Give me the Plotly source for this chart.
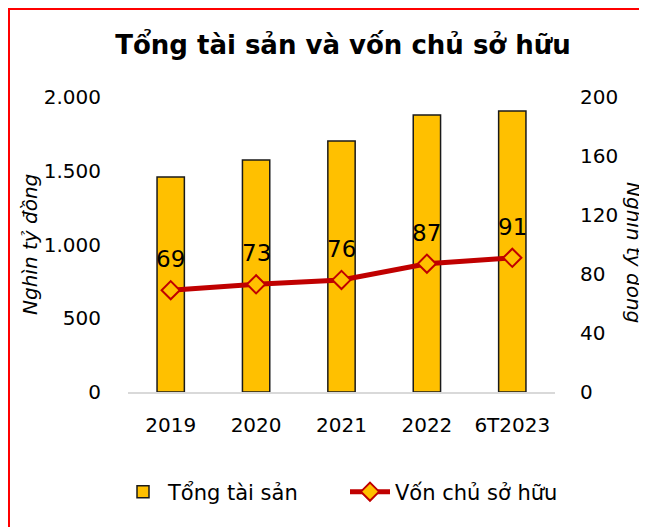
import plotly.graph_objects as go

categories = ["2019", "2020", "2021", "2022", "6T2023"]
total_assets = [1458, 1573, 1702, 1878, 1905]
equity = [69, 73, 76, 87, 91]
left_tickvals = [0, 500, 1000, 1500, 2000]
left_ticktext = ["0", "500", "1.000", "1.500", "2.000"]
right_tickvals = [0, 40, 80, 120, 160, 200]
right_ticktext = ["0", "40", "80", "120", "160", "200"]

OFF = 8  # page (body) offset of the figure in the screenshot
W, H = 647, 527
L, R, T, B = 128 - OFF, 92 + OFF, 97 - OFF, 135 + OFF
pw, ph = W - L - R, H - T - B

def px_x(x):
    return (x - OFF - L) / pw

def px_y(y):
    return (H - B - (y - OFF)) / ph

FONT = "DejaVu Sans"
GOLD = "#FFC000"
RED = "#C00000"

fig = go.Figure()
fig.add_trace(go.Bar(
    x=categories, y=total_assets, name="Tổng tài sản",
    marker=dict(color=GOLD, line=dict(color="#1a1a1a", width=1.5)),
    width=0.32, yaxis="y",
))
fig.add_trace(go.Scatter(
    x=categories, y=equity, name="Vốn chủ sở hữu", yaxis="y2",
    mode="lines+markers",
    line=dict(color=RED, width=5),
    marker=dict(symbol="diamond", size=14, color=GOLD, line=dict(color=RED, width=2)),
))

annotations = []
for i, v in enumerate(equity):
    annotations.append(dict(
        x=i, y=v, xref="x", yref="y2", text=str(v), showarrow=False,
        yshift=31, font=dict(family=FONT, size=23, color="#000000"),
    ))
annotations.append(dict(
    x=px_x(30), y=px_y(245), xref="paper", yref="paper", text="<i>Nghìn tỷ đồng</i>",
    xanchor="center", yanchor="middle",
    textangle=-90, showarrow=False, font=dict(family=FONT, size=20, color="#000000"),
))
annotations.append(dict(
    x=px_x(634), y=px_y(252), xref="paper", yref="paper", text="<i>Nghìn tỷ đồng</i>",
    xanchor="center", yanchor="middle",
    textangle=90, showarrow=False, font=dict(family=FONT, size=20, color="#000000"),
))

fig.update_layout(
    width=W, height=H,
    margin=dict(l=L, r=R, t=T, b=B, pad=0, autoexpand=False),
    paper_bgcolor="white", plot_bgcolor="white",
    font=dict(family=FONT, size=20, color="#000000"),
    title=dict(text="<b>Tổng tài sản và vốn chủ sở hữu</b>", x=px_x(343), xanchor="center",
               y=1 - (45 - OFF) / H, yanchor="middle", xref="paper",
               font=dict(family=FONT, size=26, color="#000000")),
    xaxis=dict(type="category", range=[-0.5, len(categories) - 0.5],
               showgrid=False, showline=True, linecolor="#D9D9D9", linewidth=2,
               ticks="outside", ticklen=14, tickcolor="rgba(0,0,0,0)",
               tickfont=dict(size=20), zeroline=False),
    yaxis=dict(range=[0, 2000], tickvals=left_tickvals, ticktext=left_ticktext,
               showgrid=False, zeroline=False, showline=False,
               ticks="outside", ticklen=22, tickcolor="rgba(0,0,0,0)", tickfont=dict(size=20)),
    yaxis2=dict(range=[0, 200], tickvals=right_tickvals, ticktext=right_ticktext,
                overlaying="y", side="right", showgrid=False, zeroline=False, showline=False,
                ticks="outside", ticklen=20, tickcolor="rgba(0,0,0,0)", tickfont=dict(size=20)),
    legend=dict(orientation="h", x=px_x(118), xanchor="left", y=px_y(492), yanchor="middle",
                font=dict(family=FONT, size=21), itemwidth=40, entrywidth=172,
                bgcolor="rgba(0,0,0,0)"),
    annotations=annotations,
    shapes=[dict(type="rect", xref="paper", yref="paper",
                 x0=px_x(9), x1=px_x(680), y0=px_y(560), y1=px_y(9),
                 line=dict(color="#FF0000", width=2), fillcolor="rgba(0,0,0,0)", layer="above")],
    showlegend=True,
)

fig.write_html("out.html")
